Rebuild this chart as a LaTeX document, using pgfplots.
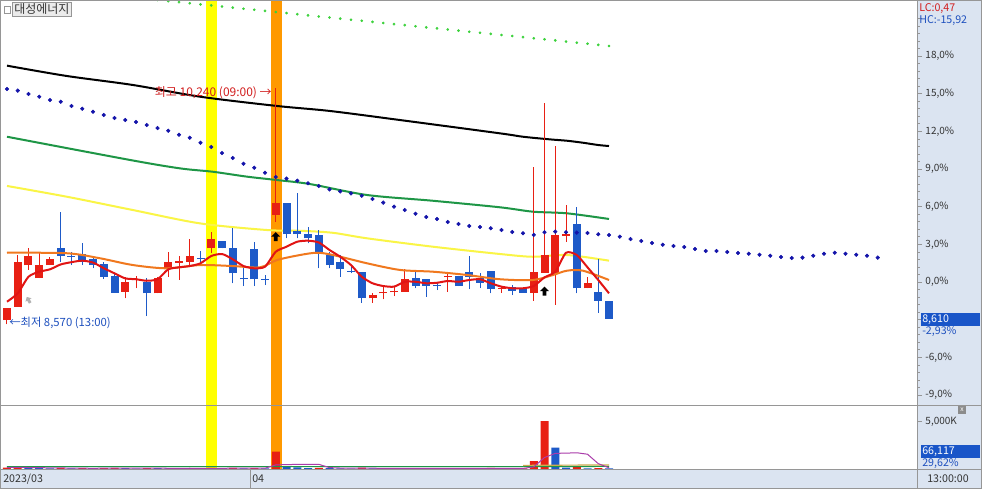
\documentclass[border=0pt]{standalone}
\usepackage{fontspec}
\setmainfont{Noto Sans CJK KR}
\usepackage{pgfplots}
\usepackage{pgfplotstable}
\pgfplotsset{compat=1.18}

\definecolor{cup}{RGB}{232,32,20}
\definecolor{cdn}{RGB}{30,90,200}
\definecolor{mafive}{RGB}{225,20,20}
\definecolor{maor}{RGB}{240,120,30}
\definecolor{mayel}{RGB}{250,245,70}
\definecolor{magrn}{RGB}{30,150,70}
\definecolor{dotblue}{RGB}{20,20,170}
\definecolor{dotgrn}{RGB}{60,210,60}
\definecolor{panel}{RGB}{219,228,241}
\definecolor{frame}{RGB}{150,150,150}
\definecolor{hlyel}{RGB}{255,255,0}
\definecolor{hlor}{RGB}{255,153,0}
\definecolor{volpur}{RGB}{170,60,170}
\definecolor{voltan}{RGB}{205,170,80}
\definecolor{labblue}{RGB}{30,80,190}
\definecolor{labred}{RGB}{210,30,30}
\definecolor{boxblue}{RGB}{25,85,200}

\newcommand{\fs}[1]{\fontsize{#1}{#1}\selectfont}

\pgfdeclareplotmark{uparrow}{%
 \pgfpathmoveto{\pgfqpoint{0pt}{\pgfplotmarksize}}%
 \pgfpathlineto{\pgfqpoint{-\pgfplotmarksize}{0pt}}%
 \pgfpathlineto{\pgfqpoint{-0.42\pgfplotmarksize}{0pt}}%
 \pgfpathlineto{\pgfqpoint{-0.42\pgfplotmarksize}{-\pgfplotmarksize}}%
 \pgfpathlineto{\pgfqpoint{0.42\pgfplotmarksize}{-\pgfplotmarksize}}%
 \pgfpathlineto{\pgfqpoint{0.42\pgfplotmarksize}{0pt}}%
 \pgfpathlineto{\pgfqpoint{\pgfplotmarksize}{0pt}}%
 \pgfpathclose\pgfusepathqfill}

% up candles (red): index, open, high, low, close  (percent vs. base)
\pgfplotstableread{
i O H L C
0 -3.03 -2.05 -3.38 -2.10
1 -1.97 2.15 -1.97 1.62
2 1.33 2.68 0.96 2.07
3 0.30 2.41 0.30 1.35
4 1.35 1.97 1.35 1.83
11 -0.77 0.42 -1.30 0.02
12 0.12 0.48 -0.50 0.16
14 -0.90 0.42 -0.90 0.30
15 1.09 2.41 0.42 1.62
16 1.55 2.07 0.16 1.62
17 1.62 3.40 1.35 2.07
19 2.68 4.01 2.31 3.40
25 5.34 15.45 4.80 6.32
34 -1.30 -0.90 -1.65 -1.04
35 -0.90 -0.37 -1.38 -0.85
36 -0.82 -0.42 -1.12 -0.77
37 -0.77 1.01 -0.77 0.22
41 0.38 0.82 -0.77 0.42
46 -0.55 -0.32 -0.85 -0.50
49 -0.85 9.18 -1.49 0.77
50 0.74 14.28 0.74 2.15
51 0.74 10.83 -1.83 3.74
52 3.70 6.13 3.21 3.74
54 -0.50 0.42 -0.50 -0.10
}\upcandles

% down candles (blue)
\pgfplotstableread{
i O H L C
5 2.68 5.60 1.62 2.07
6 2.07 2.41 1.35 2.00
7 2.23 3.11 1.35 1.62
8 1.83 2.02 1.09 1.35
9 1.43 1.59 0.22 0.42
10 0.48 0.69 -0.85 -0.85
13 0.02 0.30 -2.71 -0.90
18 1.89 2.49 1.35 1.85
20 3.27 3.27 2.68 2.68
21 2.68 4.28 -0.10 0.69
22 0.25 1.35 -0.32 0.21
23 2.60 3.21 -0.32 0.21
24 0.20 0.56 -0.24 0.16
26 6.32 6.32 3.48 3.82
27 4.09 7.06 3.48 3.82
28 3.82 4.40 3.08 3.48
29 3.74 4.14 1.09 2.41
30 2.15 2.41 1.09 1.35
31 1.62 2.15 0.42 1.01
32 0.82 1.35 0.69 0.80
33 0.82 0.82 -1.65 -1.30
38 0.30 0.82 -0.50 -0.32
39 0.22 0.22 -1.17 -0.32
40 -0.28 0.02 -0.64 -0.32
42 0.48 0.48 -0.32 -0.32
43 0.82 2.07 -0.58 0.42
44 0.30 0.69 -0.48 -0.06
45 0.88 0.88 -0.90 -0.58
47 -0.42 -0.24 -1.04 -0.72
48 -0.50 -0.50 -0.85 -0.85
53 4.62 5.95 -0.90 -0.50
55 -0.77 1.81 -2.45 -1.49
56 -1.49 -1.49 -2.93 -2.93
}\dncandles

% volume (K), coloured by change vs previous bar
\pgfplotstableread{
i v
0 150
1 200
5 110
7 80
9 90
10 120
13 100
17 80
19 110
21 120
23 100
25 1830
29 120
33 140
37 90
41 60
42 70
43 90
45 110
47 50
48 60
49 846
50 5074
53 270
55 100
}\volred

\pgfplotstableread{
i v
2 120
3 90
4 70
6 60
8 70
11 80
12 50
14 90
15 70
16 60
18 50
20 70
22 60
24 60
26 280
27 160
28 90
30 80
31 70
32 50
34 70
35 50
36 40
38 60
39 50
40 40
44 50
46 40
51 2252
52 150
54 60
56 66
}\volblue

\pgfplotsset{chart/.style={
  scale only axis, width=687.75pt,
  xmin=-0.651, xmax=84.65,
  axis line style={draw=frame, line width=0.75pt},
  tick style={draw=frame, line width=0.5pt},
  ytick pos=right, yticklabel pos=right, tick align=outside,
  xtick=\empty,
  major tick length=3.8pt, minor tick length=2pt,
  yticklabel style={font=\fs{7.5}, text=black!80, xshift=-1pt},
  clip=true,
}}

\begin{document}
\begin{tikzpicture}[x=0.75pt,y=-0.75pt]
\useasboundingbox (0,0) rectangle (982,489);
\fill[white] (0,0) rectangle (982,489);
\fill[panel] (917,0) rectangle (982,489);
\fill[panel] (0,469) rectangle (982,489);

% ---------------- main price panel ----------------
\begin{axis}[chart, at={(0pt,-303.75pt)}, anchor=south west, height=303.75pt,
  ymin=-9.796, ymax=22.46,
  ytick={-9,-6,-3,0,3,6,9,12,15,18,21},
  yticklabels={{-9,0\%},{-6,0\%},{},{0,0\%},{3,0\%},{6,0\%},{9,0\%},{12,0\%},{15,0\%},{18,0\%},{}},
  minor y tick num=4]

\addplot[fill=hlyel, draw=none] coordinates {(18.51,-20) (19.50,-20) (19.50,30) (18.51,30)} -- cycle;
\addplot[fill=hlor, draw=none] coordinates {(24.56,-20) (25.55,-20) (25.55,30) (24.56,30)} -- cycle;

% green dotted
\addplot[only marks, mark=*, mark size=0.8pt, color=dotgrn] coordinates {
(0,23.68) (1,23.59) (2,23.51) (3,23.42) (4,23.33) (5,23.24) (6,23.16) (7,23.07) (8,22.98) (9,22.90)
(10,22.81) (11,22.72) (12,22.63) (13,22.55) (14,22.46) (15,22.37) (16,22.29) (17,22.20) (18,22.11) (19,22.03)
(20,21.94) (21,21.85) (22,21.76) (23,21.68) (24,21.59) (25,21.50) (26,21.42) (27,21.33) (28,21.24) (29,21.15)
(30,21.07) (31,20.98) (32,20.89) (33,20.81) (34,20.72) (35,20.63) (36,20.54) (37,20.46) (38,20.37) (39,20.28)
(40,20.20) (41,20.11) (42,20.02) (43,19.93) (44,19.85) (45,19.76) (46,19.67) (47,19.59) (48,19.50) (49,19.41)
(50,19.33) (51,19.24) (52,19.15) (53,19.06) (54,18.98) (55,18.89) (56,18.80)};

% black line
\addplot[black, line width=1.5pt, smooth] coordinates {
(0,17.23) (5.55,16.41) (11.72,15.69) (17.95,14.76) (25.12,14.02) (30.05,13.62) (36.56,12.90)
(45.86,11.84) (48,11.57) (50.5,11.36) (52.1,11.25) (53.6,11.09) (55,10.91) (56,10.83)};

% green solid
\addplot[magrn, line width=1.5pt, smooth] coordinates {
(0,11.57) (11.44,9.72) (16.1,9.05) (19.16,8.78) (22.33,8.39) (25.12,8.12) (28.19,7.80)
(33.49,6.93) (39.63,6.47) (45.86,5.95) (48.93,5.60) (52.09,5.47) (56,5.02)};

% yellow
\addplot[mayel, line width=1.5pt, smooth] coordinates {
(0,7.65) (5.58,6.79) (11.72,5.73) (17.95,4.67) (24.19,4.14) (27.26,4.08) (30.3,3.92) (33.49,3.48)
(39.63,2.81) (45.86,2.23) (48.93,2.01) (52.09,2.15) (56,1.70)};

% candles: wicks then bodies
\addplot[draw=none, mark=none, error bars/.cd, y dir=plus, y explicit, error mark=none,
  error bar style={draw=cup, line width=0.75pt}]
  table[x=i, y=L, y error plus expr={\thisrow{H}-\thisrow{L}}] {\upcandles};
\addplot[draw=none, mark=none, error bars/.cd, y dir=plus, y explicit, error mark=none,
  error bar style={draw=cup, line width=6pt}]
  table[x=i, y expr={min(\thisrow{O},\thisrow{C})}, y error plus expr={max(abs(\thisrow{C}-\thisrow{O}),0.09)}] {\upcandles};
\addplot[draw=none, mark=none, error bars/.cd, y dir=plus, y explicit, error mark=none,
  error bar style={draw=cdn, line width=0.75pt}]
  table[x=i, y=L, y error plus expr={\thisrow{H}-\thisrow{L}}] {\dncandles};
\addplot[draw=none, mark=none, error bars/.cd, y dir=plus, y explicit, error mark=none,
  error bar style={draw=cdn, line width=6pt}]
  table[x=i, y expr={min(\thisrow{O},\thisrow{C})}, y error plus expr={max(abs(\thisrow{C}-\thisrow{O}),0.09)}] {\dncandles};

% blue dotted (extends forward)
\addplot[only marks, mark=*, mark size=1.35pt, color=dotblue] coordinates {
(0,15.37) (1,15.24) (2,14.97) (3,14.76) (4,14.49) (5,14.36) (6,14.02) (7,13.80) (8,13.56) (9,13.30)
(10,13.06) (11,12.90) (12,12.74) (13,12.50) (14,12.26) (15,12.05) (16,11.73) (17,11.49) (18,11.09) (19,10.75)
(20,10.27) (21,9.88) (22,9.42) (23,9.10) (24,8.70) (25,8.36) (26,8.23) (27,8.07) (28,7.86) (29,7.65)
(30,7.38) (31,7.22) (32,7.06) (33,6.87) (34,6.61) (35,6.32) (36,6.00) (37,5.73) (38,5.44) (39,5.18)
(40,5.02) (41,4.78) (42,4.62) (43,4.46) (44,4.38) (45,4.28) (46,4.14) (47,3.98) (48,3.88) (49,3.75)
(50,3.96) (51,4.01) (52,3.96) (53,3.93) (54,3.90) (55,3.80) (56,3.74) (57,3.61) (58,3.42) (59,3.27)
(60,3.11) (61,2.97) (62,2.87) (63,2.79) (64,2.63) (65,2.47) (66,2.47) (67,2.39) (68,2.31) (69,2.25)
(70,2.17) (71,2.09) (72,1.99) (73,1.91) (74,1.94) (75,2.09) (76,2.25) (77,2.33) (78,2.25) (79,2.17)
(80,2.09) (81,1.94)};

% orange
\addplot[maor, line width=1.5pt, smooth] coordinates {
(0,2.33) (5.58,2.29) (8.65,1.89) (11.72,1.35) (14.88,1.09) (17.95,1.35) (21.02,1.27) (23.53,1.17)
(25.12,1.75) (27.26,2.15) (28.84,2.33) (30.33,2.15) (33.49,1.49) (36.56,0.96) (39.63,0.82) (42.79,0.56)
(45.86,0.22) (48.93,0.16) (50.79,0.56) (52.09,0.90) (53.58,0.90) (56,0.16)};

% red MA5
\addplot[mafive, line width=1.5pt, smooth, tension=0.4] coordinates {
(0,-1.57) (1,-0.90) (2,0.42) (3,0.82) (4,1.01) (5,1.40) (6,1.58) (7,1.70) (8,1.55) (9,1.10)
(10,0.69) (11,0.29) (12,0.22) (13,0.10) (14,0.22) (15,1.01) (16,1.17) (17,1.27) (18,1.49) (19,2.07)
(20,2.23) (21,1.81) (22,1.27) (23,1.09) (24,1.22) (25,2.41) (26,2.81) (27,3.21) (28,3.29) (29,3.15)
(30,2.55) (31,2.01) (32,1.35) (33,0.42) (34,-0.10) (35,-0.32) (36,-0.37) (37,0.02) (38,0.02) (39,-0.10)
(40,-0.06) (41,0.08) (42,0.02) (43,0.16) (44,0.22) (45,-0.10) (46,-0.37) (47,-0.50) (48,-0.50) (49,-0.32)
(50,0.37) (51,0.82) (52,2.33) (53,2.15) (54,1.17) (55,0.16) (56,-0.90)};

% signal arrows
\addplot[only marks, mark=uparrow, mark size=3.4pt, color=black] coordinates {(25,3.61) (50,-0.72)};
\addplot[only marks, mark=uparrow, mark size=2.6pt, color=black!30, mark options={rotate=30}] coordinates {(2,-1.43)};
\end{axis}

% ---------------- volume panel ----------------
\begin{axis}[chart, at={(0pt,-351.75pt)}, anchor=south west, height=48pt,
  ymin=0, ymax=6765, ytick={5000}, yticklabels={5{,}000K}]
\addplot[fill=hlyel, draw=none] coordinates {(18.51,-100) (19.50,-100) (19.50,8000) (18.51,8000)} -- cycle;
\addplot[fill=hlor, draw=none] coordinates {(24.56,-100) (25.55,-100) (25.55,8000) (24.56,8000)} -- cycle;
\addplot[ybar, bar width=6pt, bar shift=0pt, fill=cup, draw=none] table[x=i, y=v] {\volred};
\addplot[ybar, bar width=6pt, bar shift=0pt, fill=cdn, draw=none] table[x=i, y=v] {\volblue};
\addplot[magrn, line width=0.9pt] coordinates {(0,250) (48,250) (56,280)};
\addplot[voltan, line width=0.9pt] coordinates {(48,380) (52,410) (56,420)};
\addplot[volpur, line width=0.75pt] coordinates {
(0,150) (1,175) (2,157) (3,140) (4,126) (5,118) (6,90) (7,82) (8,78) (9,82)
(10,84) (11,88) (12,82) (13,88) (14,88) (15,78) (16,74) (17,80) (18,70) (19,74)
(20,74) (21,86) (22,82) (23,92) (24,82) (25,434) (26,466) (27,486) (28,484) (29,496)
(30,146) (31,104) (32,82) (33,92) (34,82) (35,76) (36,70) (37,78) (38,62) (39,58)
(40,56) (41,60) (42,56) (43,62) (44,62) (45,76) (46,72) (47,68) (48,62) (49,221)
(50,1214) (51,1656) (52,1676) (53,1718) (54,1561) (55,566) (56,129)};
\end{axis}

% ---------------- frame, separators, texts ----------------
\draw[frame, line width=0.75pt] (0,405) -- (982,405);
\draw[frame, line width=0.75pt] (0,469) -- (982,469);
\draw[frame, line width=0.75pt] (250,469) -- (250,489);
\draw[frame, line width=0.75pt] (917,0) -- (917,489);
\draw[frame, line width=0.75pt] (0.5,0.5) rectangle (981.5,488.5);

\draw[frame, fill=white] (4,6) rectangle (10,13);
\node[draw=frame, fill=black!8, anchor=west, inner xsep=1.5pt, inner ysep=1pt, text=black!80, font=\fs{9}] at (12,9.5) {대성에너지};

\node[anchor=east, inner sep=0pt, text=labred, font=\fs{9}] at (272,93) {최고 10,240 (09:00) →};
\node[anchor=west, inner sep=0pt, text=labblue, font=\fs{8.5}] at (9,323) {←최저 8,570 (13:00)};

\node[anchor=west, inner sep=0pt, text=labred, font=\fs{8}] at (919,9) {LC:0,47};
\node[anchor=west, inner sep=0pt, text=labblue, font=\fs{8}] at (919,21) {HC:-15,92};

\fill[boxblue] (921,312.5) rectangle (980,326);
\node[anchor=west, inner sep=0pt, text=white, font=\fs{8}] at (922,319.5) {8,610};
\node[anchor=west, inner sep=0pt, text=labblue, font=\fs{8}] at (922,331.5) {-2,93\%};

\fill[boxblue] (921,444.5) rectangle (980,458);
\node[anchor=west, inner sep=0pt, text=white, font=\fs{8}] at (922,451.5) {66,117};
\node[anchor=west, inner sep=0pt, text=labblue, font=\fs{8}] at (922,463.5) {29,62\%};

\node[fill=black!45, text=white, inner sep=0pt, minimum size=5.5pt, font=\fs{5}] at (962,410) {x};

\node[anchor=west, inner sep=0pt, text=black!80, font=\fs{8}] at (3,479) {2023/03};
\node[anchor=west, inner sep=0pt, text=black!80, font=\fs{8}] at (252,479) {04};
\node[inner sep=0pt, text=black!80, font=\fs{8}] at (948,479) {13:00:00};
\end{tikzpicture}
\end{document}
